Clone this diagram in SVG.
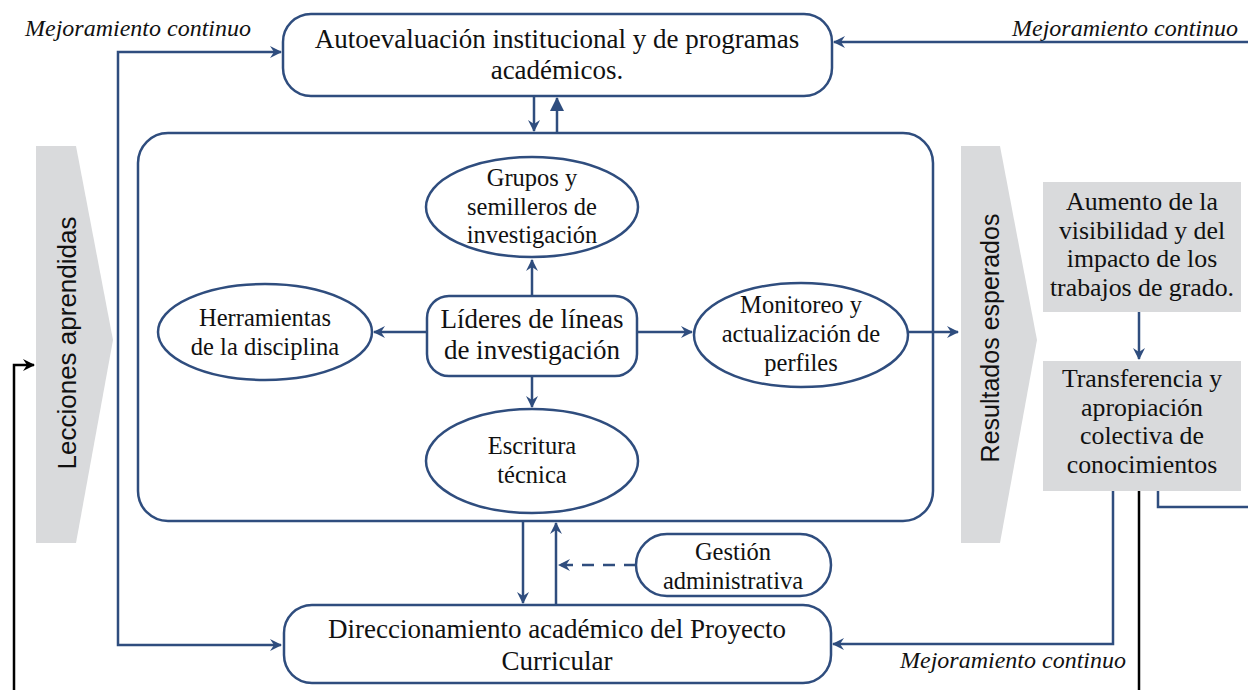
<svg xmlns="http://www.w3.org/2000/svg" width="1248" height="690" viewBox="0 0 1248 690">
<defs>
<style>
.b{fill:#fff;stroke:#2f4d7e;stroke-width:2.5}
.g{fill:#d9dadc}
.t{font-family:'Liberation Serif','DejaVu Serif',serif;fill:#111;text-anchor:middle}
.L{font-size:27px}
.m{font-size:24.5px}
.r{font-size:25.8px}
.s{font-family:'Liberation Sans',Arial,sans-serif;fill:#111;text-anchor:middle}
.i{font-family:'Liberation Serif','DejaVu Serif',serif;font-style:italic;fill:#111;font-size:24px}
.c{fill:none;stroke:#2f4d7e;stroke-width:2.5}
.k{fill:none;stroke:#000;stroke-width:2.5}
</style>
<marker id="a" viewBox="0 0 12 12" refX="11" refY="6" markerWidth="12" markerHeight="12" markerUnits="userSpaceOnUse" orient="auto-start-reverse">
<path d="M0,0 L12,6 L0,12 L4,6 Z" fill="#2f4d7e"/>
</marker>
<marker id="tri" viewBox="0 0 14 14" refX="13" refY="7" markerWidth="14" markerHeight="14" markerUnits="userSpaceOnUse" orient="auto">
<path d="M0,0 L14,7 L0,14 Z" fill="#2f4d7e"/>
</marker>
<marker id="ak" viewBox="0 0 12 12" refX="11" refY="6" markerWidth="12" markerHeight="12" markerUnits="userSpaceOnUse" orient="auto">
<path d="M0,0 L12,6 L0,12 L4,6 Z" fill="#000"/>
</marker>
</defs>
<rect width="1248" height="690" fill="#fff"/>

<g id="lecciones">
<polygon class="g" points="36,146 76,146 113,340 76,543 36,543"/>
<text class="s" font-size="26" transform="translate(76,343) rotate(-90)">Lecciones aprendidas</text>
</g>
<g id="resultados">
<polygon class="g" points="961,146 1000,146 1037,340 1000,543 961,543"/>
<text class="s" font-size="25" transform="translate(999,338) rotate(-90)">Resultados esperados</text>
</g>

<g id="main">
<rect class="b" x="138" y="133" width="795" height="388" rx="30"/>
</g>

<g id="autoevaluacion">
<rect class="b" x="283" y="14" width="549" height="82" rx="28"/>
<text class="t L" x="557" y="48">Autoevaluación institucional y de programas</text>
<text class="t L" x="557" y="79">académicos.</text>
</g>

<g id="grupos">
<ellipse class="b" cx="532" cy="207" rx="106" ry="50"/>
<text class="t m" x="532" y="186">Grupos y</text>
<text class="t m" x="532" y="215">semilleros de</text>
<text class="t m" x="532" y="243">investigación</text>
</g>

<g id="lideres">
<rect class="b" x="427" y="296" width="210" height="80" rx="22"/>
<text class="t L" x="532" y="328">Líderes de líneas</text>
<text class="t L" x="532" y="359">de investigación</text>
</g>

<g id="herramientas">
<ellipse class="b" cx="265" cy="332" rx="107" ry="48"/>
<text class="t m" x="265" y="326">Herramientas</text>
<text class="t m" x="265" y="355">de la disciplina</text>
</g>

<g id="monitoreo">
<ellipse class="b" cx="801" cy="335" rx="107" ry="52"/>
<text class="t m" x="801" y="313">Monitoreo y</text>
<text class="t m" x="801" y="342">actualización de</text>
<text class="t m" x="801" y="371">perfiles</text>
</g>

<g id="escritura">
<ellipse class="b" cx="532" cy="461" rx="106" ry="52"/>
<text class="t m" x="532" y="454">Escritura</text>
<text class="t m" x="532" y="483">técnica</text>
</g>

<g id="gestion">
<rect class="b" x="636" y="534" width="195" height="62" rx="31"/>
<text class="t m" x="733" y="560">Gestión</text>
<text class="t m" x="733" y="589">administrativa</text>
</g>

<g id="direccionamiento">
<rect class="b" x="284" y="605" width="547" height="78" rx="28"/>
<text class="t L" x="557" y="638">Direccionamiento académico del Proyecto</text>
<text class="t L" x="557" y="670">Curricular</text>
</g>

<g id="aumento">
<rect class="g" x="1043" y="182" width="198" height="130"/>
<text class="t r" x="1142" y="210">Aumento de la</text>
<text class="t r" x="1142" y="239">visibilidad y del</text>
<text class="t r" x="1142" y="267">impacto de los</text>
<text class="t r" x="1142" y="296">trabajos de grado.</text>
</g>

<g id="transferencia">
<rect class="g" x="1043" y="361" width="198" height="130"/>
<text class="t r" x="1142" y="387">Transferencia y</text>
<text class="t r" x="1142" y="416">apropiación</text>
<text class="t r" x="1142" y="444">colectiva de</text>
<text class="t r" x="1142" y="473">conocimientos</text>
</g>

<g id="labels">
<text class="i" x="25" y="36">Mejoramiento continuo</text>
<text class="i" x="1238" y="36" text-anchor="end">Mejoramiento continuo</text>
<text class="i" x="1126" y="668" text-anchor="end">Mejoramiento continuo</text>
</g>

<g id="connectors">
<path class="c" d="M281,52 H118 V645 H281" marker-start="url(#a)" marker-end="url(#a)"/>
<path class="c" d="M1248,42 H834" marker-end="url(#a)"/>
<path class="c" d="M534,96 V131" marker-end="url(#a)"/>
<path class="c" d="M557,133 V98" marker-end="url(#tri)"/>
<path class="c" d="M532,296 V260" marker-end="url(#a)"/>
<path class="c" d="M532,376 V407" marker-end="url(#a)"/>
<path class="c" d="M427,332 H374" marker-end="url(#a)"/>
<path class="c" d="M637,332 H692" marker-end="url(#a)"/>
<path class="c" d="M908,332 H958" marker-end="url(#a)"/>
<path class="c" d="M523,521 V603" marker-end="url(#a)"/>
<path class="c" d="M556,605 V523" marker-end="url(#a)"/>
<path class="c" d="M636,565 H559" stroke-dasharray="12,9" marker-end="url(#a)"/>
<path class="c" d="M1139,312 V359" marker-end="url(#a)"/>
<path class="c" d="M1113,491 V644 H833" marker-end="url(#a)"/>
<path class="c" d="M1158,491 V507 H1248"/>
<path class="k" d="M1139,491 V690"/>
<path class="k" d="M14,690 V365 H34" marker-end="url(#ak)"/>
</g>
</svg>
